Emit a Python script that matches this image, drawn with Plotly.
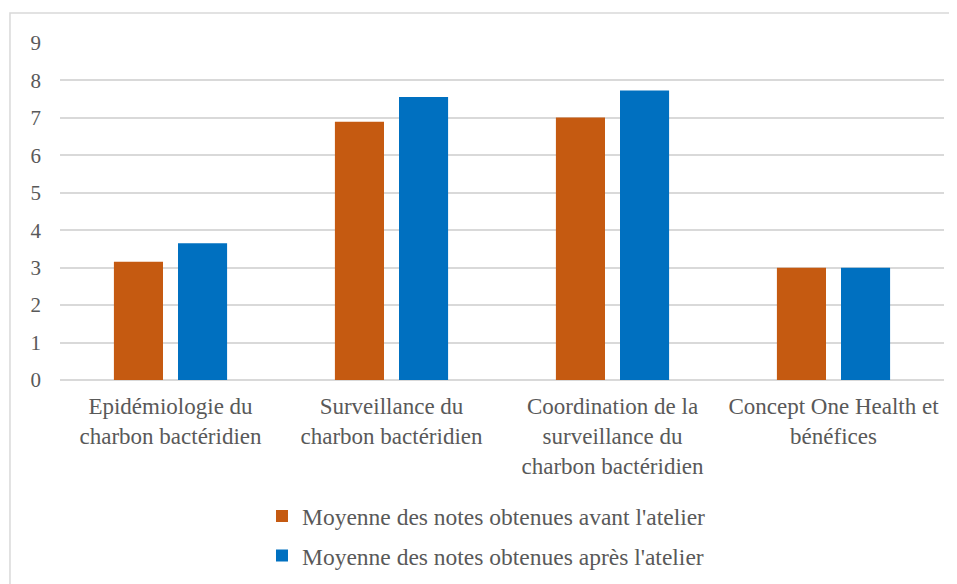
import plotly.graph_objects as go

categories = [
    "Epidémiologie du<br>charbon bactéridien",
    "Surveillance du<br>charbon bactéridien",
    "Coordination de la<br>surveillance du<br>charbon bactéridien",
    "Concept One Health et<br>bénéfices",
]
avant = [3.16, 6.90, 7.01, 3.0]
apres = [3.65, 7.56, 7.73, 3.0]
series_names = [
    "Moyenne des notes obtenues avant l'atelier",
    "Moyenne des notes obtenues après l'atelier",
]
colors = ["#C55A11", "#0070C0"]
y_ticks = list(range(0, 10))

font_family = "Liberation Serif, Times New Roman, serif"
text_color = "#595959"

fig = go.Figure()
for name, vals, col, grp in zip(series_names, [avant, apres], colors, ["a", "b"]):
    fig.add_trace(go.Bar(
        x=categories, y=vals, name=name, legendgroup=grp,
        marker=dict(color=col, line=dict(width=0)),
    ))

fig.update_layout(
    width=949, height=576,
    margin=dict(l=52, r=13, t=35, b=204),
    paper_bgcolor="white", plot_bgcolor="white",
    barmode="group", bargap=0.42, bargroupgap=0.234,
    font=dict(family=font_family, size=21, color=text_color),
    showlegend=True,
    legend=dict(
        orientation="v", xref="paper", x=0.2285, xanchor="left",
        yref="container", y=0.156, yanchor="top",
        font=dict(family=font_family, size=23.5, color=text_color),
        tracegroupgap=6, itemwidth=30,
    ),
    xaxis=dict(
        showgrid=False, showline=False, ticks="", ticklabelstandoff=10,
        automargin=False,
        tickfont=dict(family=font_family, size=23, color=text_color),
    ),
    yaxis=dict(
        range=[0, 9], tickvals=y_ticks, showgrid=True,
        gridcolor="#d9d9d9", gridwidth=1.5,
        zeroline=True, zerolinecolor="#d9d9d9", zerolinewidth=1.5,
        showline=False, ticks="", ticklabelstandoff=18, automargin=False,
        tickfont=dict(family=font_family, size=21, color=text_color),
    ),
    shapes=[dict(
        type="rect", xref="paper", yref="paper",
        x0=-0.0566, x1=1.0136, y0=-0.65, y1=1.089,
        line=dict(color="#d9d9d9", width=1.5), fillcolor="rgba(0,0,0,0)",
        layer="below",
    )],
)

fig.write_html("out.html")
